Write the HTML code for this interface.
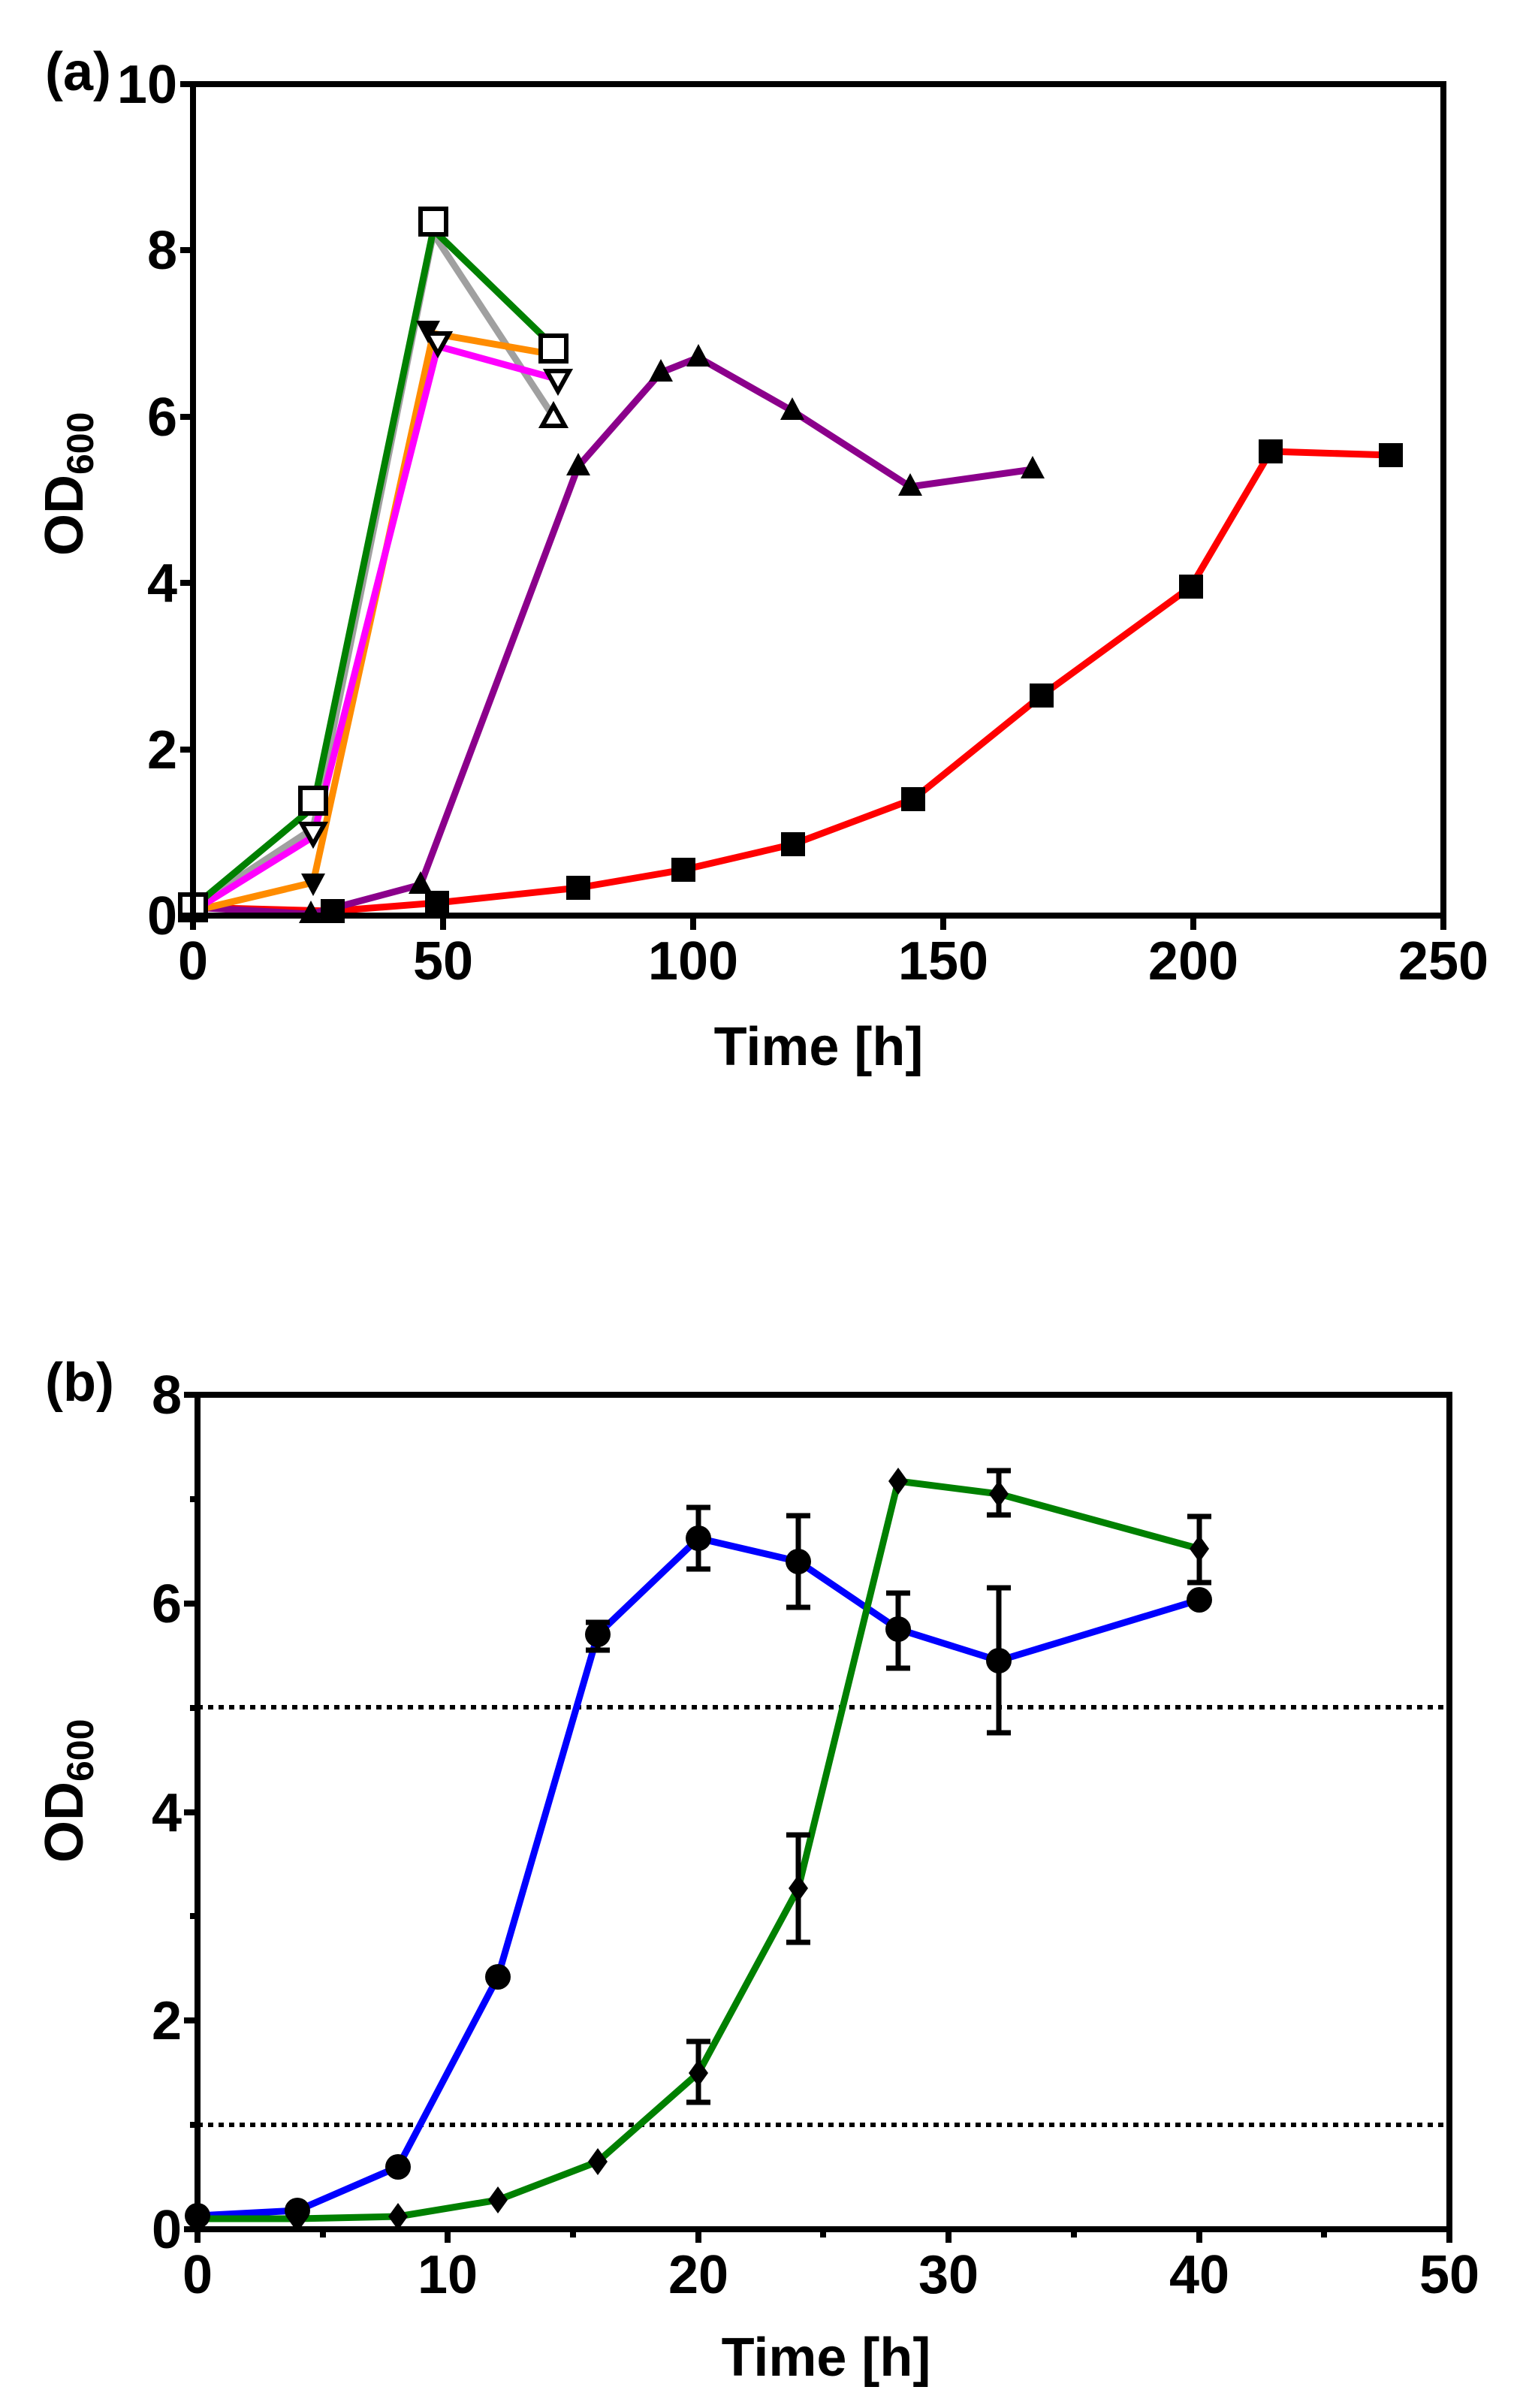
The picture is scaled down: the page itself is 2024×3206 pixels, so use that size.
<!DOCTYPE html>
<html><head><meta charset="utf-8"><style>
html,body{margin:0;padding:0;background:#fff;}
svg{display:block;}
.t{font-family:"Liberation Sans Narrow","Liberation Sans",sans-serif;font-weight:bold;font-size:72px;fill:#000;}
.ti{font-family:"Liberation Sans",sans-serif;font-weight:bold;font-size:72px;fill:#000;}
</style></head><body>
<svg width="2024" height="3206" viewBox="0 0 2024 3206" xmlns="http://www.w3.org/2000/svg">
<!-- Panel A -->
<g stroke-linejoin="round" fill="none" stroke-width="9">
<polyline stroke="#ff0000" points="257,1208 443,1213 582,1202 770,1182 910,1158 1056,1124 1216,1064 1387,926 1586,781 1692,601 1852,606"/>
<polyline stroke="#8b008b" points="257,1208 414,1217 560,1178 770,621 880,496 930,476 1055,547 1212,648 1375,625"/>
<polyline stroke="#a0a0a0" points="257,1208 417,1103 577,311 737,555"/>
<polyline stroke="#ff8c00" points="257,1213 417,1175 577,444 737,472"/>
<polyline stroke="#ff00ff" points="257,1213 417,1114 583,461 743,505"/>
<polyline stroke="#008000" points="257,1208 417,1075 577,306 737,461"/>
</g>
<g fill="#000">
<rect x="427" y="1197" width="32" height="32"/><rect x="566" y="1186" width="32" height="32"/><rect x="754" y="1166" width="32" height="32"/><rect x="894" y="1142" width="32" height="32"/><rect x="1040" y="1108" width="32" height="32"/><rect x="1200" y="1048" width="32" height="32"/><rect x="1371" y="910" width="32" height="32"/><rect x="1570" y="765" width="32" height="32"/><rect x="1676" y="585" width="32" height="32"/><rect x="1836" y="590" width="32" height="32"/>
<polygon points="414,1199 398,1229 430,1229"/><polygon points="560,1160 544,1190 576,1190"/><polygon points="770,603 754,633 786,633"/><polygon points="880,478 864,508 896,508"/><polygon points="930,458 914,488 946,488"/><polygon points="1055,529 1039,559 1071,559"/><polygon points="1212,630 1196,660 1228,660"/><polygon points="1375,607 1359,637 1391,637"/>
<polygon points="417,1193 401,1163 433,1163"/><polygon points="570,457 554,427 586,427"/>
</g>
<g fill="#fff" stroke="#000" stroke-width="6">
<polygon points="417,1124 402,1097 432,1097"/><polygon points="583,471 568,444 598,444"/><polygon points="743,521 728,494 758,494"/>
<polygon points="737,540 722,567 752,567"/>
<rect x="240" y="1191" width="34" height="34"/><rect x="400" y="1049" width="34" height="34"/><rect x="560" y="278" width="34" height="34"/><rect x="720" y="447" width="34" height="34"/>
</g>
<g stroke="#000" stroke-width="8" fill="none">
<rect x="257" y="112" width="1665" height="1107"/>
<path d="M240,112H257M240,333H257M240,555H257M240,776H257M240,998H257M240,1219H257"/>
<path d="M257,1219V1238M590,1219V1238M923,1219V1238M1256,1219V1238M1589,1219V1238M1922,1219V1238"/>
</g>
<g class="t" text-anchor="end">
<text x="236" y="137">10</text><text x="236" y="358">8</text><text x="236" y="580">6</text><text x="236" y="801">4</text><text x="236" y="1023">2</text><text x="236" y="1244">0</text>
</g>
<g class="t" text-anchor="middle">
<text x="257" y="1304">0</text><text x="590" y="1304">50</text><text x="923" y="1304">100</text><text x="1256" y="1304">150</text><text x="1589" y="1304">200</text><text x="1922" y="1304">250</text>
<text x="1090" y="1418">Time [h]</text>
</g>
<text class="t" x="60" y="120">(a)</text>
<text class="ti" transform="translate(110,740) rotate(-90)">OD<tspan font-size="50" dy="14">600</tspan></text>

<!-- Panel B -->
<g stroke="#000" stroke-width="6" stroke-dasharray="7,7" fill="none">
<path d="M263,2273H1930M263,2829H1930"/>
</g>
<g stroke-linejoin="round" fill="none" stroke-width="9">
<polyline stroke="#0000ff" points="263,2950 396,2943 530,2885 663,2632 796,2176 930,2048 1063,2079 1196,2169 1330,2211 1597,2130"/>
<polyline stroke="#008000" points="263,2954 396,2954 530,2951 663,2929 796,2878 930,2760 1063,2514 1196,1972 1330,1989 1597,2062"/>
</g>
<g stroke="#000" stroke-width="7" fill="none">
<path d="M796,2197V2160M780,2197H812M780,2160H812"/>
<path d="M930,2089V2007M914,2089H946M914,2007H946"/>
<path d="M1063,2140V2018M1047,2140H1079M1047,2018H1079"/>
<path d="M1196,2221V2121M1180,2221H1212M1180,2121H1212"/>
<path d="M1330,2307V2114M1314,2307H1346M1314,2114H1346"/>
<path d="M930,2799V2718M914,2799H946M914,2718H946"/>
<path d="M1063,2586V2443M1047,2586H1079M1047,2443H1079"/>
<path d="M1330,2017V1958M1314,2017H1346M1314,1958H1346"/>
<path d="M1597,2107V2019M1581,2107H1613M1581,2019H1613"/>
</g>
<g fill="#000">
<circle cx="263" cy="2950" r="17"/><circle cx="396" cy="2943" r="17"/><circle cx="530" cy="2885" r="17"/><circle cx="663" cy="2632" r="17"/><circle cx="796" cy="2176" r="17"/><circle cx="930" cy="2048" r="17"/><circle cx="1063" cy="2079" r="17"/><circle cx="1196" cy="2169" r="17"/><circle cx="1330" cy="2211" r="17"/><circle cx="1597" cy="2130" r="17"/>
<polygon points="396,2936 409,2954 396,2972 383,2954"/><polygon points="530,2933 543,2951 530,2969 517,2951"/><polygon points="663,2911 676,2929 663,2947 650,2929"/><polygon points="796,2860 809,2878 796,2896 783,2878"/><polygon points="930,2742 943,2760 930,2778 917,2760"/><polygon points="1063,2496 1076,2514 1063,2532 1050,2514"/><polygon points="1196,1954 1209,1972 1196,1990 1183,1972"/><polygon points="1330,1971 1343,1989 1330,2007 1317,1989"/><polygon points="1597,2044 1610,2062 1597,2080 1584,2062"/>
</g>
<g stroke="#000" stroke-width="8" fill="none">
<rect x="263" y="1857" width="1667" height="1111"/>
<path d="M245,1857H263M245,2135H263M245,2413H263M245,2690H263M245,2968H263"/>
<path d="M253,1996H263M253,2274H263M253,2551H263M253,2829H263"/>
<path d="M263,2968V2986M596,2968V2986M930,2968V2986M1263,2968V2986M1597,2968V2986M1930,2968V2986"/>
<path d="M430,2968V2979M763,2968V2979M1096,2968V2979M1430,2968V2979M1763,2968V2979"/>
</g>
<g class="t" text-anchor="end">
<text x="242" y="1882">8</text><text x="242" y="2160">6</text><text x="242" y="2438">4</text><text x="242" y="2715">2</text><text x="242" y="2993">0</text>
</g>
<g class="t" text-anchor="middle">
<text x="263" y="3053">0</text><text x="596" y="3053">10</text><text x="930" y="3053">20</text><text x="1263" y="3053">30</text><text x="1597" y="3053">40</text><text x="1930" y="3053">50</text>
<text x="1100" y="3163">Time [h]</text>
</g>
<text class="t" x="60" y="1865">(b)</text>
<text class="ti" transform="translate(110,2480) rotate(-90)">OD<tspan font-size="50" dy="14">600</tspan></text>
</svg>
</body></html>
